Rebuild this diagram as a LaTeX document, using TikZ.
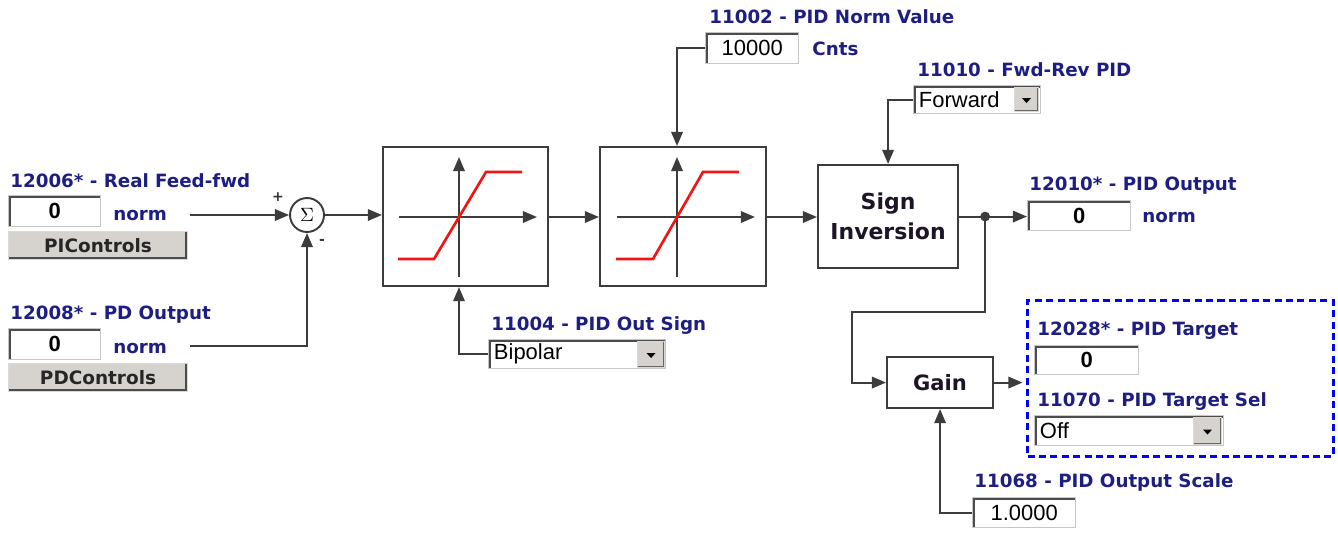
\documentclass[tikz,border=0pt]{standalone}
\usepackage{fontspec}
\usetikzlibrary{arrows.meta,calc}
\newfontfamily\verd{DejaVu Sans}
\newfontfamily\arialf{Liberation Sans}
\definecolor{navy}{RGB}{30,30,130}
\definecolor{lin}{RGB}{60,60,60}
\definecolor{btngray}{RGB}{214,211,206}
\definecolor{dash}{RGB}{0,0,255}
\definecolor{redc}{RGB}{240,20,20}
\begin{document}
\begin{tikzpicture}[x=0.02cm,y=-0.02cm,
  sz/.style 2 args={minimum width=#1*0.02cm, minimum height=#2*0.02cm},
  lab/.style={anchor=base west, inner sep=0pt, text=navy, font=\verd\bfseries\fontsize{10.4}{12}\selectfont},
  tbox/.style={draw=black!22, fill=white, inner sep=0pt, line width=0.8pt, anchor=north west,
     path picture={\draw[black!70, line width=2.6pt] (path picture bounding box.south west) -- (path picture bounding box.north west) -- (path picture bounding box.north east);}},
  valb/.style={font=\arialf\bfseries\fontsize{12.5}{14}\selectfont},
  valr/.style={font=\arialf\fontsize{12.5}{14}\selectfont},
  dd/.style={tbox, inner xsep=3pt, align=left, font=\arialf\fontsize{12.5}{14}\selectfont},
  btn/.style={fill=btngray, draw=black!15, line width=0.6pt, inner sep=0pt, anchor=north west,
     text=black!85, font=\verd\bfseries\fontsize{10.5}{12}\selectfont,
     path picture={\draw[black!70, line width=2.4pt] (path picture bounding box.north east) -- (path picture bounding box.south east) -- (path picture bounding box.south west);}},
  ddbtn/.style={fill=btngray, draw=black!15, line width=0.6pt, inner sep=0pt, anchor=north west,
     path picture={\draw[black!60, line width=1.6pt] (path picture bounding box.north east) -- (path picture bounding box.south east) -- (path picture bounding box.south west);}},
  blk/.style={draw=lin, line width=1.2pt, fill=white, anchor=north west, inner sep=0pt, align=center,
     text={rgb,255:red,30;green,20;blue,40}},
  conn/.style={draw=lin, line width=1.1pt},
  arr/.style={conn, -{Triangle[length=8pt,width=6.5pt]}},
  axis/.style={draw=lin, line width=1.1pt},
  sat/.style={draw=redc, line width=1.5pt},
  tri/.style={fill=black},
]
\useasboundingbox (0,0) rectangle (1338,534);

% ---------- left inputs ----------
\node[lab] (l1) at (10,187) {12006* - Real Feed-fwd};
\node[tbox, sz={92}{31}, valb] (in1) at (8,195) {0};
\node[lab] (n1) at (113,220) {norm};
\node[btn, sz={179}{28}] (b1) at (8,231) {PIControls};

\node[lab] (l2) at (10,319) {12008* - PD Output};
\node[tbox, sz={92}{31}, valb] (in2) at (8,328) {0};
\node[lab] (n2) at (113,353) {norm};
\node[btn, sz={179}{28}] (b2) at (8,363) {PDControls};

% ---------- summing junction ----------
\node[circle, draw=lin, line width=1.1pt, fill=white, minimum size=0.68cm, inner sep=0pt,
      font=\fontsize{11}{12}\selectfont] (sum) at (307,215) {$\Sigma$};
\node[inner sep=0pt, font=\verd\bfseries\fontsize{8}{9}\selectfont, text=black!80] (plus) at (278,197) {+};
\node[inner sep=0pt, font=\verd\bfseries\fontsize{8}{9}\selectfont, text=black!80] (minus) at (322,242) {-};

\coordinate (c1) at (190,215);
\coordinate (c2) at (190,346);
\draw[arr] (c1) -- (sum.west);
\draw[arr] (c2) -| (sum.south);

% ---------- saturation block 1 ----------
\node[blk, sz={165}{139}] (sat1) at (382,146) {};
\coordinate (ax1) at (459,217);
\draw[axis, -{Triangle[length=8pt,width=6.5pt]}] (399,217) -- (537,217);
\draw[axis, -{Triangle[length=8pt,width=6.5pt]}] (459,277) -- (459,157);
\draw[sat] (398,259) -- (434,259) -- (486,172) -- (522,172);

% ---------- saturation block 2 ----------
\node[blk, sz={166}{139}] (sat2) at (599,146) {};
\coordinate (ax2) at (677,217);
\draw[axis, -{Triangle[length=8pt,width=6.5pt]}] (617,217) -- (755,217);
\draw[axis, -{Triangle[length=8pt,width=6.5pt]}] (677,277) -- (677,157);
\draw[sat] (616,259) -- (653,259) -- (703,172) -- (739,172);

\draw[arr] (sum.east) -- (sum.east -| sat1.west);
\draw[arr] (sat1.east |- ax1) -- (sat2.west |- ax1);

% ---------- sign inversion ----------
\node[blk, sz={140}{103}, font=\verd\bfseries\fontsize{12.5}{17}\selectfont] (sign) at (817,164) {Sign\\Inversion};
\draw[arr] (sat2.east |- ax2) -- (sign.west |- ax2);

% ---------- PID out sign ----------
\node[lab] (l4) at (491,330) {11004 - PID Out Sign};
\node[dd, text width=3.33cm, minimum height=0.58cm] (bip) at (488,339) {Bipolar};
\node[ddbtn, sz={27}{26}] (bipb) at (637,341) {};
\fill[tri] ([shift={(-4.5,-1.5)}]bipb.center) -- ([shift={(4.5,-1.5)}]bipb.center) -- ([shift={(0,3.5)}]bipb.center) -- cycle;
\draw[arr] (bip.west) -| (ax1 |- sat1.south);

% ---------- PID norm value ----------
\node[lab] (l5) at (709,23) {11002 - PID Norm Value};
\node[tbox, sz={93}{31}, valr] (nv) at (705,32) {10000};
\node[lab] (cn) at (812,55) {Cnts};
\draw[arr] (nv.west) -| (ax2 |- sat2.north);

% ---------- Fwd-Rev ----------
\node[lab] (l6) at (917,76) {11010 - Fwd-Rev PID};
\node[dd, text width=2.33cm, minimum height=0.56cm] (fr) at (913,85) {Forward};
\node[ddbtn, sz={24}{24}] (frb) at (1014,87) {};
\fill[tri] ([shift={(-4.5,-1.5)}]frb.center) -- ([shift={(4.5,-1.5)}]frb.center) -- ([shift={(0,3.5)}]frb.center) -- cycle;
\draw[arr] (fr.west) -| (sign.north);

% ---------- PID output ----------
\node[lab] (l7) at (1029,190) {12010* - PID Output};
\node[tbox, sz={103}{30}, valb] (out) at (1027,200) {0};
\node[lab] (n7) at (1142,222) {norm};
\path (sign.east) -- ++(26,0) coordinate (j);
\draw[conn] (sign.east) -- (j);
\draw[arr] (j) -- (j -| out.west);
\fill[lin] (j) circle (2.8pt);

% ---------- gain ----------
\node[blk, sz={106}{51}, font=\verd\bfseries\fontsize{12}{14}\selectfont] (gain) at (886,356) {Gain};
\coordinate (k1) at (983,312);
\coordinate (k2) at (852,312);
\draw[arr] (j) -- (j |- k1) -- (k2) |- (gain.west);

% ---------- target group ----------
\node[draw=dash, dashed, dash pattern=on 4pt off 2.5pt, line width=1.7pt, anchor=north west, sz={306}{156}, inner sep=0pt] (tgt) at (1026,299) {};
\draw[arr, shorten >=2pt] (gain.east) -- (gain.east -| tgt.west);
\node[lab] (l8) at (1037,335) {12028* - PID Target};
\node[tbox, sz={104}{29}, valb] (tv) at (1034,345) {0};
\node[lab] (l9) at (1037,406) {11070 - PID Target Sel};
\node[dd, text width=3.57cm, minimum height=0.6cm] (off) at (1034,415) {Off};
\node[ddbtn, sz={28}{27}] (offb) at (1193,417) {};
\fill[tri] ([shift={(-4.5,-1.5)}]offb.center) -- ([shift={(4.5,-1.5)}]offb.center) -- ([shift={(0,3.5)}]offb.center) -- cycle;

% ---------- output scale ----------
\node[lab] (l10) at (974,487) {11068 - PID Output Scale};
\node[tbox, sz={103}{30}, valr] (sc) at (972,497) {1.0000};
\draw[arr] (sc.west) -| (gain.south);
\end{tikzpicture}
\end{document}
